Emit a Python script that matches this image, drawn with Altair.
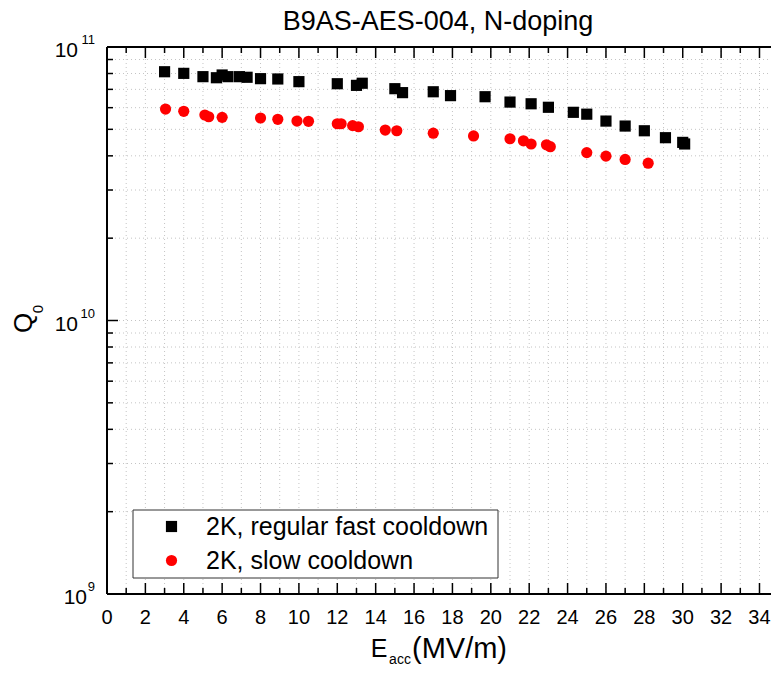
import altair as alt
import pandas as pd

title_text = "B9AS-AES-004, N-doping"
series_names = ["2K, regular fast cooldown", "2K, slow cooldown"]

fast_E = [3.0, 4.0, 5.0, 5.7, 6.0, 6.3, 6.9, 7.3, 8.0, 8.9, 10.0, 12.0, 13.0, 13.3, 15.0,
          15.4, 17.0, 17.9, 19.7, 21.0, 22.1, 23.0, 24.3, 25.0, 26.0, 27.0, 28.0, 29.1, 30.0, 30.1]
fast_Q = [8.12e10, 8.01e10, 7.79e10, 7.72e10, 7.90e10, 7.79e10, 7.79e10, 7.75e10, 7.66e10, 7.64e10,
          7.47e10, 7.34e10, 7.24e10, 7.37e10, 7.04e10, 6.81e10, 6.86e10, 6.64e10, 6.58e10, 6.29e10,
          6.20e10, 6.02e10, 5.77e10, 5.68e10, 5.36e10, 5.14e10, 4.94e10, 4.66e10, 4.48e10, 4.42e10]
slow_E = [3.05, 4.0, 5.1, 5.3, 6.0, 8.0, 8.9, 9.9, 10.5, 12.0, 12.2, 12.8, 13.1, 14.5, 15.1,
          17.0, 19.1, 21.0, 21.7, 22.1, 22.9, 23.1, 25.0, 26.0, 27.0, 28.2]
slow_Q = [5.93e10, 5.82e10, 5.64e10, 5.56e10, 5.53e10, 5.50e10, 5.44e10, 5.36e10, 5.35e10, 5.24e10,
          5.24e10, 5.16e10, 5.11e10, 4.97e10, 4.94e10, 4.84e10, 4.73e10, 4.62e10, 4.54e10, 4.42e10,
          4.39e10, 4.32e10, 4.11e10, 3.99e10, 3.88e10, 3.76e10]

x_major = list(range(0, 35, 2))
x_minor = list(range(1, 35, 2))
x_grid = list(range(1, 35))
y_major = [1e9, 1e10, 1e11]
y_exp = ["9", "10", "11"]
y_minor = [k * 10.0 ** e for e in (9, 10) for k in range(2, 10)]
y_grid = sorted([1e10] + y_minor)

W, H = 664, 547
FONT = "Liberation Sans"
GRID = "#c4c4c4"

xscale = alt.Scale(domain=[0, 34.6], nice=False, zero=False)
yscale = alt.Scale(type="log", domain=[1e9, 1e11], nice=False)

df = pd.DataFrame({
    "E": fast_E + slow_E,
    "Q": fast_Q + slow_Q,
    "series": [series_names[0]] * len(fast_E) + [series_names[1]] * len(slow_E),
})

legend = alt.Legend(title=None, orient="none", legendX=52, legendY=467, labelFont=FONT,
                    labelFontSize=25, labelColor="black", labelLimit=0, symbolSize=125,
                    symbolStrokeWidth=0, labelOffset=22, rowPadding=8, padding=0, symbolOffset=0)

points = alt.Chart(df).mark_point(filled=True, opacity=1, size=125, strokeWidth=0).encode(
    x=alt.X("E:Q", scale=xscale, axis=None),
    y=alt.Y("Q:Q", scale=yscale, axis=None),
    color=alt.Color("series:N", scale=alt.Scale(domain=series_names, range=["black", "red"]),
                    legend=legend),
    shape=alt.Shape("series:N", scale=alt.Scale(domain=series_names, range=["square", "circle"]),
                    legend=legend),
)

one = pd.DataFrame({"a": [0]})

grid_x = alt.Chart(pd.DataFrame({"v": x_grid})).mark_rule(
    color=GRID, strokeWidth=1, strokeDash=[1, 3]).encode(
    x=alt.X("v:Q", scale=xscale, axis=None), y=alt.value(0), y2=alt.value(H))
grid_y = alt.Chart(pd.DataFrame({"v": y_grid})).mark_rule(
    color=GRID, strokeWidth=1, strokeDash=[1, 3]).encode(
    y=alt.Y("v:Q", scale=yscale, axis=None), x=alt.value(0), x2=alt.value(W))

legend_box = alt.Chart(one).mark_rect(fill="white", stroke="#333333", strokeWidth=1).encode(
    x=alt.value(26), x2=alt.value(391), y=alt.value(463), y2=alt.value(531))

frame_top = alt.Chart(one).mark_rule(color="black", strokeWidth=2).encode(
    x=alt.value(0), x2=alt.value(W), y=alt.value(0))
frame_bottom = alt.Chart(one).mark_rule(color="black", strokeWidth=2).encode(
    x=alt.value(0), x2=alt.value(W), y=alt.value(H))
frame_left = alt.Chart(one).mark_rule(color="black", strokeWidth=2).encode(
    x=alt.value(0), y=alt.value(0), y2=alt.value(H))


def xticks(vals, y0, y1):
    return alt.Chart(pd.DataFrame({"v": vals})).mark_rule(color="black", strokeWidth=1.5).encode(
        x=alt.X("v:Q", scale=xscale, axis=None), y=alt.value(y0), y2=alt.value(y1))


def yticks(vals, length):
    return alt.Chart(pd.DataFrame({"v": vals})).mark_rule(color="black", strokeWidth=1.5).encode(
        y=alt.Y("v:Q", scale=yscale, axis=None), x=alt.value(0), x2=alt.value(length))


xlabels = alt.Chart(pd.DataFrame({"v": x_major})).mark_text(
    font=FONT, fontSize=20, align="center", baseline="middle", color="black").encode(
    x=alt.X("v:Q", scale=xscale, axis=None), y=alt.value(H + 24), text="v:Q")

ydf = pd.DataFrame({"v": y_major, "exp": y_exp})


def ybase(filt, xpos):
    return alt.Chart(ydf).transform_filter(filt).mark_text(
        text="10", font=FONT, fontSize=21, align="right", baseline="middle", dy=4,
        color="black").encode(x=alt.value(xpos), y=alt.Y("v:Q", scale=yscale, axis=None))


ylab_short = ybase("length(datum.exp) == 1", -20)
ylab_long = ybase("length(datum.exp) == 2", -29)
ylab_exp = alt.Chart(ydf).mark_text(font=FONT, fontSize=13, align="right", baseline="middle",
                                    dy=-7, color="black").encode(
    x=alt.value(-12), y=alt.Y("v:Q", scale=yscale, axis=None), text="exp:N")

title = alt.Chart(one).mark_text(text=title_text, font=FONT, fontSize=27, align="center",
                                 baseline="middle", color="black").encode(
    x=alt.value(331), y=alt.value(-25))

ytitle_q = alt.Chart(one).mark_text(text="Q", font=FONT, fontSize=26, angle=270, align="center",
                                    baseline="middle", color="black").encode(
    x=alt.value(-83), y=alt.value(276))
ytitle_sub = alt.Chart(one).mark_text(text="0", font=FONT, fontSize=15, angle=270, align="center",
                                      baseline="middle", color="black").encode(
    x=alt.value(-69), y=alt.value(262))

xtitle_e = alt.Chart(one).mark_text(text="E", font=FONT, fontSize=25, align="center",
                                    baseline="middle", color="black").encode(
    x=alt.value(272), y=alt.value(H + 55))
xtitle_sub = alt.Chart(one).mark_text(text="acc", font=FONT, fontSize=14, align="center",
                                      baseline="middle", color="black").encode(
    x=alt.value(293), y=alt.value(H + 66))
xtitle_unit = alt.Chart(one).mark_text(text="(MV/m)", font=FONT, fontSize=29, align="left",
                                       baseline="middle", color="black").encode(
    x=alt.value(305), y=alt.value(H + 55))

chart = alt.layer(
    grid_x, grid_y,
    legend_box,
    points,
    frame_top, frame_bottom, frame_left,
    xticks(x_major, H, H - 11), xticks(x_minor, H, H - 6),
    xticks(x_major, 0, 11), xticks(x_minor, 0, 6),
    yticks(y_major, 11), yticks(y_minor, 6),
    xlabels, ylab_short, ylab_long, ylab_exp, title, ytitle_q, ytitle_sub,
    xtitle_e, xtitle_sub, xtitle_unit,
).properties(
    width=W, height=H,
    autosize=alt.AutoSizeParams(type="none"),
    padding={"left": 99, "top": 39, "right": 0, "bottom": 72},
).configure_view(stroke=None)

chart.save("out.html", embed_options={"renderer": "svg", "actions": False})
